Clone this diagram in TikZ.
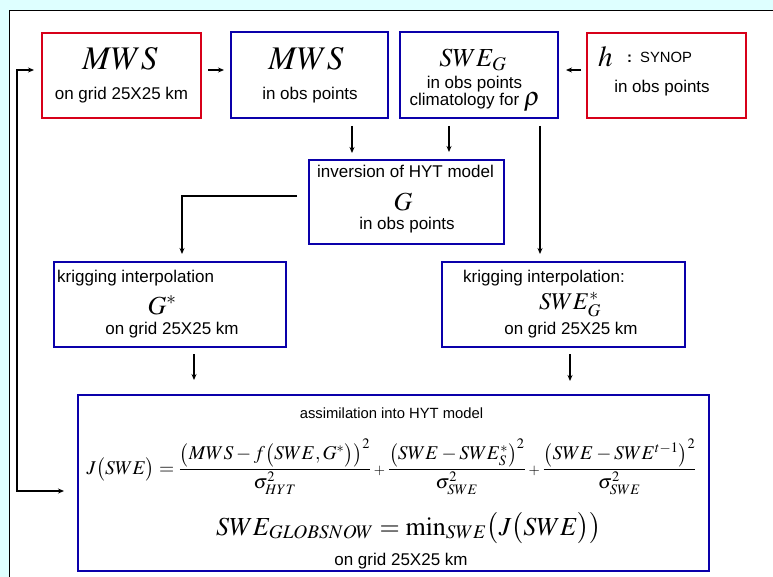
\documentclass[tikz,border=0pt]{standalone}
\usepackage{amsmath}
\usepackage{mathptmx}
\usepackage[no-math]{fontspec}
\setmainfont{Liberation Sans}
\usetikzlibrary{arrows.meta,calc}
\definecolor{bgcyan}{RGB}{222,255,255}
\definecolor{boxred}{RGB}{215,0,25}
\definecolor{boxblue}{RGB}{10,0,170}
\begin{document}
\begin{tikzpicture}[x=1pt,y=-1pt,
  box/.style={draw,rectangle,line width=2pt,inner sep=0pt},
  redbox/.style={box,draw=boxred},
  bluebox/.style={box,draw=boxblue},
  txt/.style={inner sep=0pt,anchor=base,font=\fontsize{17}{20}\selectfont},
  smalltxt/.style={inner sep=0pt,anchor=base,font=\fontsize{14.8}{18}\selectfont},
  bigmath/.style={inner sep=0pt,anchor=base,font=\fontsize{33}{38}\selectfont},
  midmath/.style={inner sep=0pt,anchor=base,font=\fontsize{26}{30}\selectfont},
  arr/.style={line width=1.3pt,-{Stealth[length=6pt,width=5pt]}},
  barr/.style={line width=1.3pt,{Stealth[length=6pt,width=5pt]}-{Stealth[length=6pt,width=5pt]}}]
\fill[bgcyan] (0,0) rectangle (773,577);
\useasboundingbox (0,0) rectangle (773,577);
\begin{scope}
\clip (0,0) rectangle (773,577);
\draw[fill=white,line width=1.5pt] (9.5,10.5) rectangle (800,600);
\end{scope}
% top row
\node[redbox,minimum width=159pt,minimum height=85pt] (A) at (121.5,75.5) {};
\node[bigmath] (Am) at (120,70) {$MWS$};
\node[txt] (At) at (121.5,100) {on grid 25X25 km};
\node[bluebox,minimum width=157pt,minimum height=86pt] (B) at (309.5,75) {};
\node[bigmath] (Bm) at (306,70) {$MWS$};
\node[txt] (Bt) at (310,100) {in obs points};
\node[bluebox,minimum width=158pt,minimum height=86pt] (C) at (479,75) {};
\node[midmath] (Cm) at (473,67) {$SWE_{G}$};
\node[txt] (Ct) at (474.5,89) {in obs points};
\node[txt] (Cc) at (475,106) {climatology for {\fontsize{26}{30}\selectfont$\rho$}};
\node[redbox,minimum width=159pt,minimum height=85pt] (D) at (666.5,75.5) {};
\node[inner sep=0pt,anchor=base west,font=\fontsize{29}{34}\selectfont] (Dh) at (598,67) {$h$};
\node[inner sep=0pt,anchor=base west,font=\fontsize{14.8}{18}\selectfont] (Ds) at (627,63) {\textbf{:}\hspace{8pt}SYNOP};
\node[txt] (Dt) at (662,93) {in obs points};
% inversion
\node[bluebox,minimum width=195pt,minimum height=84pt] (inv) at (406.5,202) {};
\node[txt] (invt) at (405.5,178) {inversion of HYT model};
\node[midmath] (invm) at (403,211) {$G$};
\node[txt] (invb) at (407,230) {in obs points};
% kriging
\node[bluebox,minimum width=232pt,minimum height=85pt] (KL) at (170,304.5) {};
\node[txt,anchor=base west] (KLt) at (57,282) {krigging interpolation};
\node[midmath] (KLm) at (162,314) {$G^{*}$};
\node[txt] (KLb) at (172,334) {on grid 25X25 km};
\node[bluebox,minimum width=243pt,minimum height=85pt] (KR) at (563.5,304.5) {};
\node[txt,anchor=base west] (KRt) at (463,282) {krigging interpolation:};
\node[inner sep=0pt,anchor=base,font=\fontsize{24}{28}\selectfont] (KRm) at (570,309) {$SWE_{G}^{*}$};
\node[txt] (KRb) at (571,334) {on grid 25X25 km};
% bottom
\node[bluebox,minimum width=631pt,minimum height=176pt] (bot) at (393.5,483) {};
\node[smalltxt] (bott) at (391.5,418) {assimilation into HYT model};
\node[inner sep=0pt,font=\fontsize{19.5}{23}\selectfont] (eq) at (391.5,467) {$J\bigl(SWE\bigr)=\dfrac{\bigl(MWS-f\bigl(SWE,G^{*}\bigr)\bigr)^{2}}{\sigma^{2}_{HYT}}\mathbin{\scriptstyle +}\dfrac{\bigl(SWE-SWE^{*}_{S}\bigr)^{2}}{\sigma^{2}_{SWE}}\mathbin{\scriptstyle +}\dfrac{\bigl(SWE-SWE^{t-1}\bigr)^{2}}{\sigma^{2}_{SWE}}$};
\node[inner sep=0pt,anchor=base,font=\fontsize{26}{30}\selectfont] (glob) at (409,535) {$SWE_{GLOBSNOW}=\min\nolimits_{SWE}\bigl(J\bigl(SWE\bigr)\bigr)$};
\node[txt] (botb) at (401,565) {on grid 25X25 km};
% connectors
\draw[arr] ($(A.east)+(6,-5.5)$) -- ($(B.west)+(-6,-5)$);
\draw[arr] ($(D.west)+(-5,-5.5)$) -- ($(C.east)+(7,-5)$);
\draw[arr] ($(B.south)+(42.5,7)$) -- ($(inv.north)+(-54.5,-6)$);
\draw[arr] ($(C.south)+(-30,7)$) -- ($(inv.north)+(42.5,-7)$);
\draw[arr] ($(C.south)+(61,7)$) -- ($(KR.north)+(-23.5,-7)$);
\draw[arr] ($(inv.west)+(-11,-6)$) -| ($(KL.north)+(12,-7)$);
\draw[arr] ($(KL.south)+(24,6)$) -- ($(KL.south |- bot.north)+(24,-14)$);
\draw[arr] ($(KR.south)+(6.5,6)$) -- ($(KR.south |- bot.north)+(6.5,-13)$);
\draw[barr] ($(bot.west)+(-13,8)$) -| ($(A.west)+(-24,-5.5)$) -- ($(A.west)+(-7,-5.5)$);
\end{tikzpicture}
\end{document}
